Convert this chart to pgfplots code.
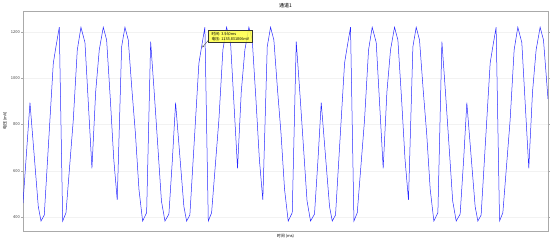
\documentclass[border=0pt]{standalone}
\usepackage{fontspec}
\setmainfont{Noto Sans CJK SC}
\usepackage{pgfplots}
\pgfplotsset{compat=1.18}
\usetikzlibrary{arrows.meta}
\definecolor{gridc}{HTML}{F2F2F2}
\definecolor{framec}{HTML}{AAAAAA}
\definecolor{tipc}{HTML}{FFFF44}
\definecolor{linec}{HTML}{2828FF}
\begin{document}
\begin{tikzpicture}
\begin{axis}[
  at={(0,0)}, anchor=south west,
  scale only axis, width=525pt, height=220pt,
  xmin=0, xmax=10.464, ymin=340, ymax=1290,
  xtick=\empty,
  ytick={400,600,800,1000,1200},
  ymajorgrids, grid style={gridc, line width=0.5pt},
  axis line style={framec, line width=0.8pt},
  tick align=outside, major tick length=2pt,
  every tick/.style={framec, line width=0.4pt},
  /pgf/number format/assume math mode=true,
  /pgf/number format/1000 sep={},
  yticklabel style={font=\fontsize{4}{5}\selectfont, color=black!75, inner sep=1pt},
  title={通道1},
  every axis title/.style={at={(axis description cs:0.5,1.0227)}, anchor=center, font=\fontsize{5}{6}\selectfont},
  xlabel={时间 (ms)},
  every axis x label/.style={at={(axis description cs:0.5,-0.0227)}, anchor=center, font=\fontsize{4}{5}\selectfont},
  ylabel={电压 (mV)},
  every axis y label/.style={at={(axis description cs:-0.0343,0.5)}, rotate=90, anchor=center, font=\fontsize{4}{5}\selectfont},
  clip=true,
]
\addplot[linec, line width=0.5pt] coordinates {
(0.000,461) (0.139,894) (0.305,445) (0.359,383) (0.424,409) (0.604,1065) (0.657,1136) (0.723,1220)
(0.791,383) (0.857,419) (1.002,819) (1.082,1122) (1.155,1220) (1.235,1154) (1.374,611) (1.448,940)
(1.520,1122) (1.600,1220) (1.667,1165) (1.743,900) (1.809,650) (1.878,474) (1.966,1136) (2.032,1220)
(2.098,1165) (2.171,950) (2.241,760) (2.311,520) (2.384,383) (2.464,419) (2.544,1158) (2.615,940)
(2.689,700) (2.759,470) (2.829,383) (2.908,413) (2.978,650)
(3.041,894) (3.207,445) (3.261,383) (3.326,409) (3.506,1065) (3.560,1136) (3.625,1220)
(3.693,383) (3.759,419) (3.904,819) (3.984,1122) (4.057,1220) (4.137,1154) (4.276,611) (4.350,940)
(4.422,1122) (4.502,1220) (4.569,1165) (4.645,900) (4.711,650) (4.780,474) (4.868,1136) (4.934,1220)
(5.000,1165) (5.073,950) (5.143,760) (5.213,520) (5.286,383) (5.366,419) (5.446,1158) (5.517,940)
(5.591,700) (5.661,470) (5.731,383) (5.810,413) (5.880,650)
(5.944,894) (6.110,445) (6.164,383) (6.229,409) (6.409,1065) (6.462,1136) (6.528,1220)
(6.596,383) (6.662,419) (6.807,819) (6.887,1122) (6.960,1220) (7.040,1154) (7.179,611) (7.253,940)
(7.325,1122) (7.405,1220) (7.472,1165) (7.548,900) (7.614,650) (7.683,474) (7.771,1136) (7.837,1220)
(7.903,1165) (7.976,950) (8.046,760) (8.116,520) (8.189,383) (8.269,419) (8.349,1158) (8.420,940)
(8.494,700) (8.564,470) (8.634,383) (8.713,413) (8.783,650)
(8.846,894) (9.012,445) (9.066,383) (9.131,409) (9.311,1065) (9.364,1136) (9.430,1220)
(9.498,383) (9.564,419) (9.709,819) (9.789,1122) (9.862,1220) (9.942,1154) (10.081,611) (10.155,940)
(10.227,1122) (10.307,1220) (10.374,1165) (10.464,910)
};
\draw[black!70, line width=0.4pt, -{Stealth[length=2pt,width=2pt]}] (axis cs:3.691,1163) -- (axis cs:3.575,1133);
\node[draw=black!80, line width=0.3pt, fill=tipc, fill opacity=0.85, text opacity=1, anchor=north west,
  inner sep=1pt, align=left, font=\fontsize{3.8}{4.8}\selectfont, minimum width=44pt, minimum height=12.5pt]
  at (axis cs:3.691,1209) {时间: 3.560ms\\电压: 1135.831806mV};
\end{axis}
\pgfresetboundingbox
\path[use as bounding box] (-23pt,-11pt) rectangle (530pt,231pt);
\end{tikzpicture}
\end{document}
